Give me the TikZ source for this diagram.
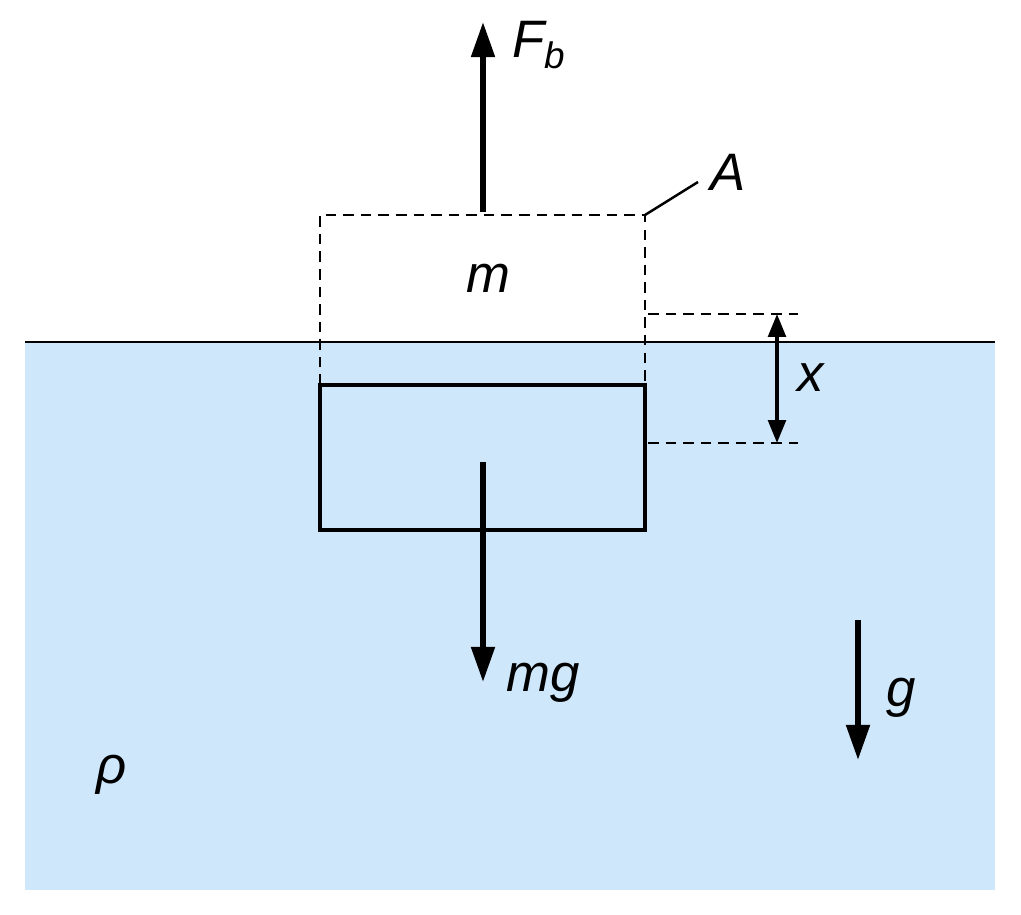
\documentclass[tikz,border=0pt]{standalone}
\usepackage{fontspec}
\setmainfont{Liberation Sans}
\usetikzlibrary{arrows.meta,positioning}
\definecolor{water}{HTML}{CFE7FA}
\begin{document}
\begin{tikzpicture}[
		x=0.02cm,y=-0.02cm,
		>={Triangle[length=20pt,width=13pt]},
		lbl/.style={font=\fontsize{30}{36}\selectfont\itshape,inner sep=0pt},
		force/.style={->,line width=3.2pt},
		outline/.style={line width=2pt},
		guide/.style={line width=1.4pt,dash pattern=on 6pt off 4pt}
		]
		\useasboundingbox (0,0) rectangle (1021,915);
		% fluid
		\fill[water] (25,342) rectangle (995,890);
		\coordinate (sL) at (25,342);
		\coordinate (sR) at (995,342);
		\draw[line width=1.4pt] (sL) -- (sR);
		% body
		\coordinate (bTL) at (320,215);
		\coordinate (bTR) at (645,215);
		\draw[guide] (320,385) -- (bTL) -- (bTR) -- (645,385);
		\draw[outline] (320,385) rectangle (645,530);
		\node[lbl] (m) at (488,278) {m};
		% area
		\coordinate (aEnd) at (698,182);
		\node[lbl,anchor=west] (A) at (710,172) {A};
		\draw[line width=1.4pt] (bTR) -- (aEnd);
		% forces
		\coordinate (fb0) at (483,212);
		\coordinate (fb1) at (483,22);
		\draw[force] (fb0) -- (fb1);
		\node[lbl,anchor=west] (Fb) at (512,45) {F\textsubscript{b}};
		\coordinate (w0) at (483,462);
		\coordinate (w1) at (483,682);
		\draw[force] (w0) -- (w1);
		\node[lbl,anchor=west] (mg) at (506,683) {mg};
		% depth
		\coordinate (d0) at (648,314);
		\coordinate (d1) at (648,443);
		\draw[guide] (d0) -- (798,314);
		\draw[guide] (d1) -- (798,443);
		\coordinate (x0) at (777,314);
		\coordinate (x1) at (777,443);
		\draw[<->,line width=2pt,>={Triangle[length=13pt,width=10pt]}] (x0) -- (x1);
		\node[lbl,anchor=west] (x) at (797,378) {x};
		% gravity
		\coordinate (g0) at (858,620);
		\coordinate (g1) at (858,760);
		\draw[force] (g0) -- (g1);
		\node[lbl,anchor=west] (g) at (886,698) {g};
		\node[lbl] (rho) at (112,775) {ρ};
\end{tikzpicture}
\end{document}
